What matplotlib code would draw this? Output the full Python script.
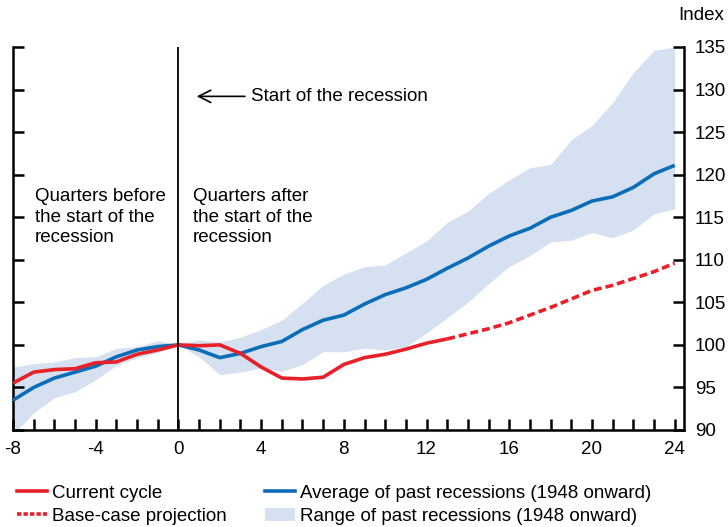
import matplotlib.pyplot as plt
from matplotlib.lines import Line2D
from matplotlib.patches import Patch
import numpy as np

plt.rcParams['font.family'] = ['Liberation Sans', 'DejaVu Sans']
plt.rcParams['axes.unicode_minus'] = False

# quarters relative to start of recession
quarters = list(range(-8, 25))

avg_past = [93.5, 95.0, 96.1, 96.8, 97.5, 98.6, 99.4, 99.8, 100.0,
            99.4, 98.5, 99.0, 99.8, 100.4, 101.8, 102.9, 103.5, 104.8,
            105.9, 106.7, 107.7, 109.0, 110.2, 111.6, 112.8, 113.7,
            115.0, 115.8, 116.9, 117.4, 118.5, 120.1, 121.1]

range_hi = [97.4, 97.8, 98.0, 98.5, 98.6, 99.6, 99.8, 100.5, 100.0,
            100.6, 100.35, 100.9, 101.8, 102.9, 104.9, 107.0, 108.3, 109.2,
            109.4, 110.8, 112.2, 114.4, 115.7, 117.8, 119.4, 120.8,
            121.2, 124.1, 125.8, 128.5, 132.0, 134.6, 135.0]

range_lo = [89.5, 92.0, 93.8, 94.5, 95.9, 97.6, 98.5, 99.1, 100.0,
            98.6, 96.5, 96.8, 97.3, 96.9, 97.7, 99.2, 99.2, 99.6,
            99.4, 99.8, 101.4, 103.2, 105.0, 107.2, 109.2, 110.5,
            112.1, 112.3, 113.2, 112.6, 113.5, 115.4, 116.0]

current_q = list(range(-8, 14))
current = [95.5, 96.8, 97.1, 97.2, 97.9, 98.0, 98.9, 99.4, 100.0,
           99.9, 100.0, 99.0, 97.4, 96.1, 96.0, 96.2, 97.7, 98.5,
           98.9, 99.5, 100.2, 100.7]

proj_q = list(range(13, 25))
projection = [100.7, 101.3, 101.9, 102.6, 103.5, 104.4, 105.4, 106.4,
              107.0, 107.8, 108.6, 109.6]

RED = '#E8202A'
BLUE = '#0B6DB7'
BAND = '#D5E0F1'
FS = 13.5

fig = plt.figure(figsize=(7.28, 5.27), dpi=100)
ax = fig.add_axes([13 / 728, 1 - 430 / 527, (684 - 13) / 728, (430 - 47) / 527])

ax.fill_between(quarters, range_lo, range_hi, color=BAND, lw=0, zorder=1)
ax.plot(quarters, avg_past, color=BLUE, lw=2.6, zorder=3, solid_capstyle='butt')
ax.plot(current_q, current, color=RED, lw=2.6, zorder=4, solid_capstyle='butt')
ax.plot(proj_q, projection, color=RED, lw=2.6, zorder=4, dashes=(2.2, 1.1))

ax.axvline(0, color='black', lw=1.3, zorder=5)

ax.set_xlim(-8, 24.45)
ax.set_ylim(90, 135)

ax.spines['top'].set_visible(False)
for s in ['left', 'right', 'bottom']:
    ax.spines[s].set_linewidth(1.8)

ax.set_xticks(range(-8, 25, 4))
ax.set_xticks(range(-8, 25), minor=True)
ax.set_yticks(range(90, 136, 5))
ax.tick_params(axis='both', which='both', direction='in', width=1.8, labelsize=FS)
ax.tick_params(axis='x', which='both', length=8, pad=8)
ax.tick_params(axis='y', left=True, right=True, labelleft=False, labelright=True,
               length=8, pad=8)

fig.text(724 / 728, 1 - 16 / 527, 'Index', fontsize=FS, ha='right', va='center')

# annotations
ax.annotate('', xy=(0.75, 129.2), xytext=(3.35, 129.2),
            arrowprops=dict(arrowstyle='->', color='black', lw=1.2,
                            mutation_scale=22))
ax.text(3.5, 129.2, 'Start of the recession', fontsize=FS, va='center', ha='left')
ax.text(-6.95, 118.4, 'Quarters before\nthe start of the\nrecession', fontsize=FS,
        va='top', ha='left', linespacing=1.25)
ax.text(0.7, 118.4, 'Quarters after\nthe start of the\nrecession', fontsize=FS,
        va='top', ha='left', linespacing=1.25)

handles = [Line2D([], [], color=RED, lw=2.6),
           Line2D([], [], color=RED, lw=2.6, dashes=(1.2, 0.6)),
           Line2D([], [], color=BLUE, lw=2.6),
           Patch(facecolor=BAND, edgecolor='none')]
labels = ['Current cycle', 'Base-case projection',
          'Average of past recessions (1948 onward)',
          'Range of past recessions (1948 onward)']
fig.legend(handles, labels, loc='upper left', bbox_to_anchor=(0.0, 0.112),
           ncol=2, frameon=False, fontsize=FS, handlelength=1.6,
           handletextpad=0.3, columnspacing=2.0, labelspacing=0.3)

fig.savefig('out.png', dpi=100)
